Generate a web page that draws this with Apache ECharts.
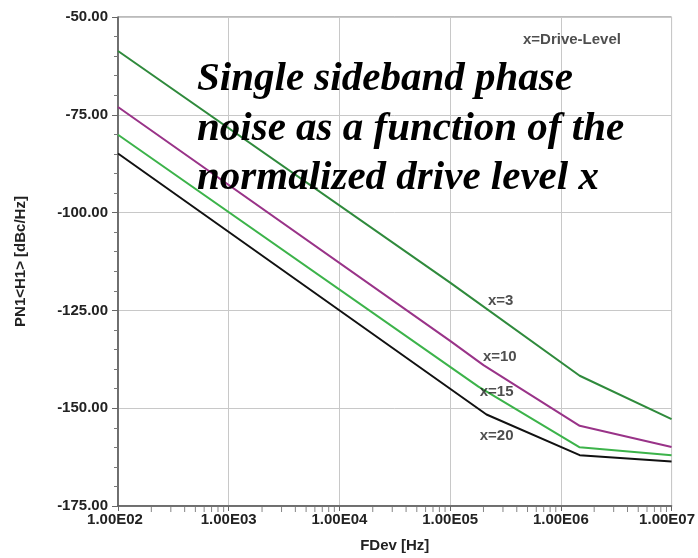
<!DOCTYPE html>
<html>
<head>
<meta charset="utf-8">
<script src="https://cdn.jsdelivr.net/npm/echarts@6/dist/echarts.min.js"></script>
<style>
html,body{margin:0;padding:0;background:#fff;}
#chart{width:698px;height:558px;}
</style>
</head>
<body>
<div id="chart"></div>
<script>
// ---- data ----
var xTickLabels = ['1.00E02', '1.00E03', '1.00E04', '1.00E05', '1.00E06', '1.00E07'];
var yTickLabels = ['-175.00', '-150.00', '-125.00', '-100.00', '-75.00', '-50.00'];
var xMinorTicks = [200,300,400,500,600,700,800,900,
                   2000,3000,4000,5000,6000,7000,8000,9000,
                   20000,30000,40000,50000,60000,70000,80000,90000,
                   200000,300000,400000,500000,600000,700000,800000,900000,
                   2000000,3000000,4000000,5000000,6000000,7000000,8000000,9000000];

var freqX3  = [100, 100000, 1480000, 10000000];
var pnX3    = [-58.7, -117.9, -141.7, -152.8];
var freqX10 = [100, 100000, 200000, 1480000, 10000000];
var pnX10   = [-73.0, -132.8, -139.0, -154.5, -159.9];
var freqX15 = [100, 180000, 1480000, 10000000];
var pnX15   = [-80.1, -144.5, -160.0, -162.0];
var freqX20 = [100, 213000, 1480000, 10000000];
var pnX20   = [-84.9, -151.6, -162.0, -163.6];

var labelTexts = ['x=3', 'x=10', 'x=15', 'x=20', 'x=Drive-Level'];
var labelFreq  = [286000, 281000, 263000, 263000, 1260000];
var labelPN    = [-122.6, -137.0, -145.9, -157.0, -55.75];

var titleLines = ['Single sideband phase', 'noise as a function of the', 'normalized drive level x'];

function pairs(xs, ys) { return xs.map(function (x, i) { return [x, ys[i]]; }); }

var chart = echarts.init(document.getElementById('chart'), null, {renderer: 'canvas'});

var lineSeries = function (name, xs, ys, color) {
  return {
    name: name, type: 'line', data: pairs(xs, ys), symbol: 'none',
    lineStyle: {color: color, width: 2}, z: 3, silent: true
  };
};

var option = {
  backgroundColor: '#fff',
  animation: false,
  grid: {left: 118, right: 26, top: 17, bottom: 47, show: true, borderColor: '#777', borderWidth: 1, containLabel: false},
  xAxis: {
    type: 'log', logBase: 10, min: 100, max: 10000000,
    name: 'FDev [Hz]', nameLocation: 'middle', nameGap: 32,
    nameTextStyle: {fontFamily: 'Liberation Sans', fontWeight: 'bold', fontSize: 15, color: '#222'},
    axisLine: {show: true, onZero: false, lineStyle: {color: '#555', width: 1.5}},
    axisTick: {show: true, length: 5, lineStyle: {color: '#666'}},
    splitLine: {show: true, lineStyle: {color: '#c8c8c8', width: 1}},
    axisLabel: {
      margin: 6, fontFamily: 'Liberation Sans', fontWeight: 'bold', fontSize: 15, color: '#222',
      formatter: function (v) {
        var i = Math.round(Math.log(v) / Math.LN10) - 2;
        var t = xTickLabels[i];
        if (i === 0) return '{first|' + t + '}';
        if (i === xTickLabels.length - 1) return '{last|' + t + '}';
        return t;
      },
      rich: {
        first: {fontFamily: 'Liberation Sans', fontWeight: 'bold', fontSize: 15, color: '#222', padding: [0, 6, 0, 0]},
        last: {fontFamily: 'Liberation Sans', fontWeight: 'bold', fontSize: 15, color: '#222', padding: [0, 9, 0, 0]}
      }
    }
  },
  yAxis: {
    type: 'value', min: -175, max: -50, interval: 25,
    name: 'PN1<H1> [dBc/Hz]', nameLocation: 'middle', nameGap: 90, nameRotate: 90,
    nameTextStyle: {fontFamily: 'Liberation Sans', fontWeight: 'bold', fontSize: 15, color: '#222'},
    axisLine: {show: true, lineStyle: {color: '#555', width: 1.5}},
    axisTick: {show: true, length: 6, lineStyle: {color: '#666'}},
    minorTick: {show: true, splitNumber: 5, length: 4, lineStyle: {color: '#777'}},
    splitLine: {show: true, lineStyle: {color: '#c8c8c8', width: 1}},
    axisLabel: {
      margin: 10, fontFamily: 'Liberation Sans', fontWeight: 'bold', fontSize: 15, color: '#222',
      formatter: function (v) { return yTickLabels[Math.round((v + 175) / 25)]; }
    }
  },
  series: [
    lineSeries('x=3', freqX3, pnX3, '#2f8a3c'),
    lineSeries('x=10', freqX10, pnX10, '#993388'),
    lineSeries('x=15', freqX15, pnX15, '#3cb34a'),
    lineSeries('x=20', freqX20, pnX20, '#111111'),
    {
      type: 'scatter', silent: true, z: 2,
      data: xMinorTicks.map(function (f) { return [f, -175]; }),
      symbol: 'rect', symbolSize: [1, 5], symbolOffset: [0, 3.5],
      itemStyle: {color: '#666'}, clip: false
    },
    {
      type: 'scatter', silent: true, z: 5,
      data: labelTexts.map(function (t, i) { return {name: t, value: [labelFreq[i], labelPN[i]]}; }),
      symbolSize: 0,
      label: {
        show: true, position: 'inside', formatter: '{b}',
        fontFamily: 'Liberation Sans', fontWeight: 'bold', fontSize: 15, color: '#222'
      }
    }
  ],
  graphic: titleLines.map(function (t, i) {
    return {
      type: 'text', left: 197, top: 59 + i * 49.5, z: 100, silent: true,
      style: {
        text: t, fontFamily: 'Liberation Serif', fontStyle: 'italic', fontWeight: 'bold',
        fontSize: 41, fill: '#000'
      }
    };
  })
};

chart.setOption(option);
</script>
</body>
</html>
